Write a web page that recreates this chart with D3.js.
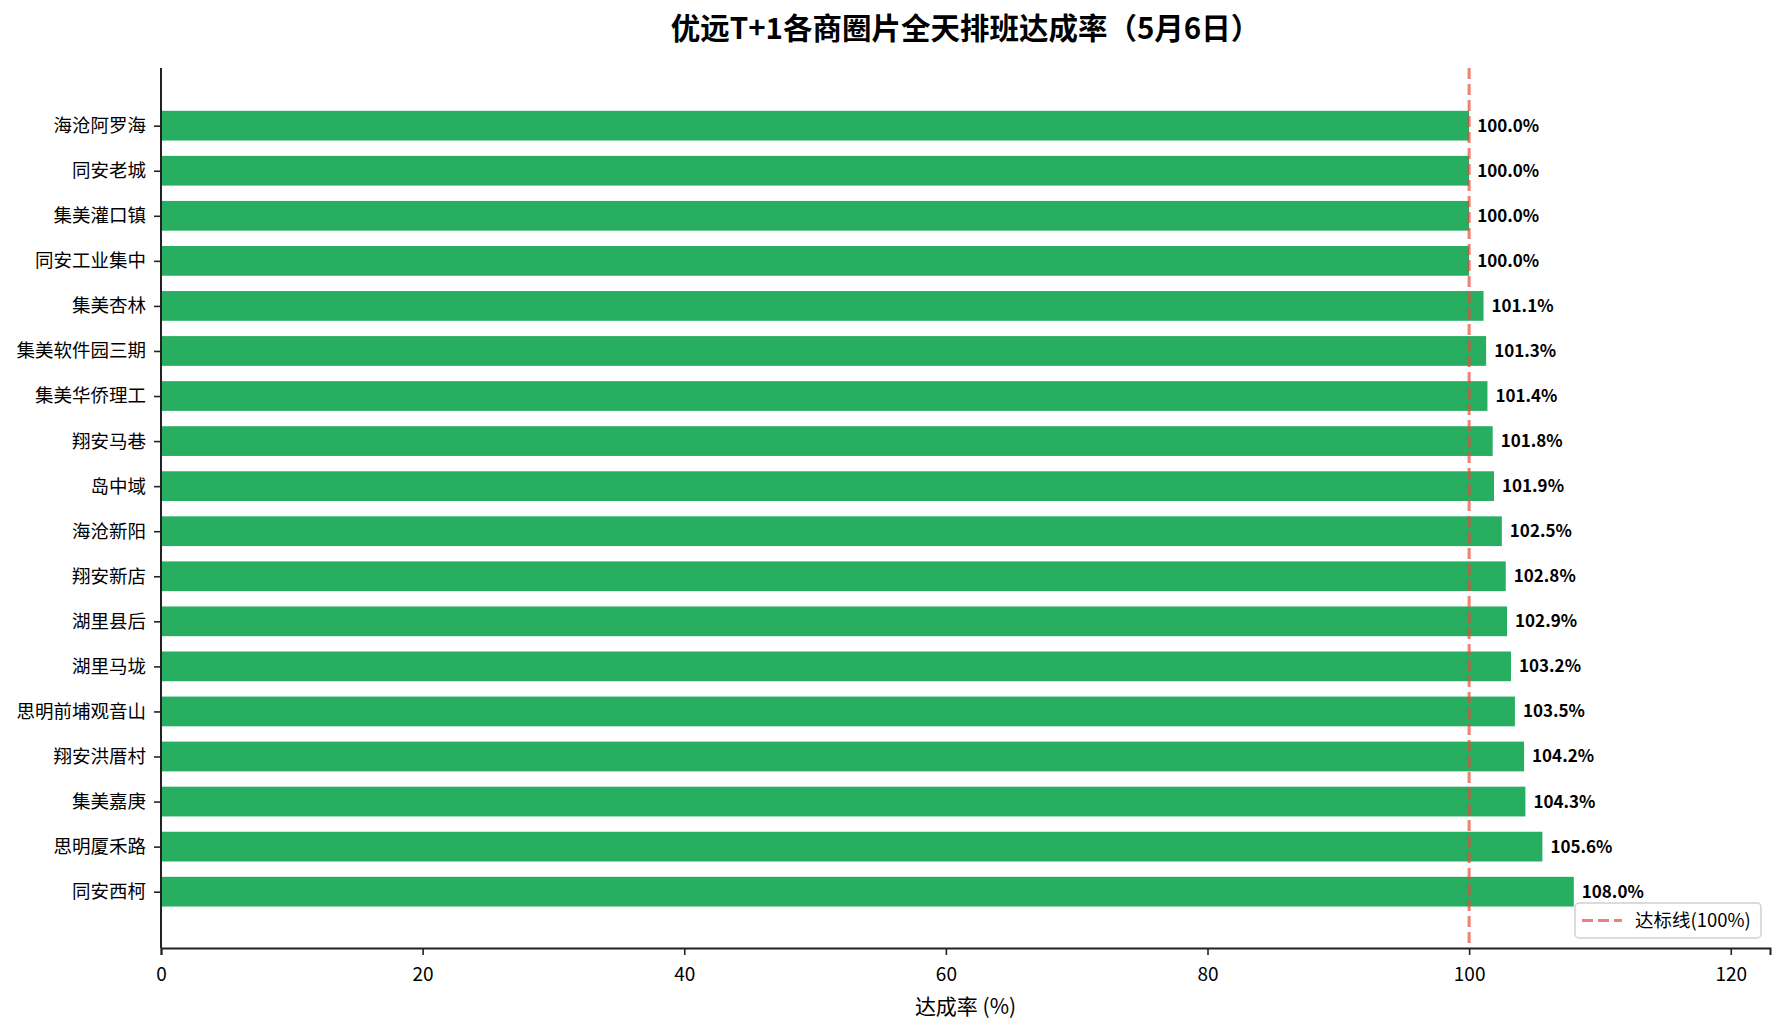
<!DOCTYPE html>
<html>
<head>
<meta charset="utf-8">
<title>优远T+1各商圈片全天排班达成率</title>
<script src="https://d3js.org/d3.v7.min.js"></script>
<style>
    body { margin: 0; background: #fff; }
    svg text { font-family: "Noto Sans CJK SC", "Noto Sans", sans-serif; }
</style>
</head>
<body>
<div id="chart"></div>
<script>
    // data (top to bottom)
    const areas = ["海沧阿罗海", "同安老城", "集美灌口镇", "同安工业集中", "集美杏林", "集美软件园三期",
        "集美华侨理工", "翔安马巷", "岛中域", "海沧新阳", "翔安新店", "湖里县后",
        "湖里马垅", "思明前埔观音山", "翔安洪厝村", "集美嘉庚", "思明厦禾路", "同安西柯"];
    const rates = [100.0, 100.0, 100.0, 100.0, 101.1, 101.3, 101.4, 101.8, 101.9, 102.5,
        102.8, 102.9, 103.2, 103.5, 104.2, 104.3, 105.6, 108.0];
    const xTicks = [0, 20, 40, 60, 80, 100, 120];
    const target = 100;
    const titleText = "优远T+1各商圈片全天排班达成率（5月6日）";
    const xLabel = "达成率 (%)";
    const legendLabel = "达标线(100%)";

    const W = 1785, H = 1033;
    const plot = { left: 161, right: 1770, top: 68, bottom: 948 };

    const svg = d3.select("#chart").append("svg")
        .attr("width", W)
        .attr("height", H);

    const x = d3.scaleLinear().domain([0, 123]).range([plot.left, plot.right]);
    // category index on a linear scale, with margins like the original
    const y = d3.scaleLinear().domain([-1.28, areas.length - 1 + 1.25]).range([plot.top, plot.bottom]);
    const barH = (y(0.33) - y(-0.33));

    // bars
    svg.append("g").selectAll("rect")
        .data(rates)
        .join("rect")
        .attr("x", x(0))
        .attr("y", (d, i) => y(i) - barH / 2)
        .attr("width", d => x(d) - x(0))
        .attr("height", barH)
        .attr("fill", "#27ae60");

    // value labels
    svg.append("g").selectAll("text")
        .data(rates)
        .join("text")
        .attr("x", d => x(d) + 8)
        .attr("y", (d, i) => y(i))
        .attr("dy", "0.35em")
        .style("font-size", "17px")
        .style("font-weight", "bold")
        .attr("fill", "#000")
        .text(d => d.toFixed(1) + "%");

    // target line
    svg.append("line")
        .attr("x1", x(target)).attr("x2", x(target))
        .attr("y1", plot.top).attr("y2", plot.bottom)
        .attr("stroke", "#e74c3c")
        .attr("stroke-opacity", 0.7)
        .attr("stroke-width", 3)
        .attr("stroke-dasharray", "11,5");

    // x axis
    const xAxis = svg.append("g")
        .attr("transform", `translate(0,${plot.bottom})`)
        .call(d3.axisBottom(x).tickValues(xTicks).tickSize(7).tickPadding(13));
    xAxis.select(".domain").attr("stroke", "#222").attr("stroke-width", 2);
    xAxis.selectAll(".tick line").attr("stroke", "#222").attr("stroke-width", 1.6);
    xAxis.selectAll(".tick text")
        .style("font-size", "19px")
        .style("font-family", "'Noto Sans CJK SC', sans-serif")
        .attr("fill", "#000");

    // y axis
    const yAxis = svg.append("g")
        .attr("transform", `translate(${plot.left},0)`)
        .call(d3.axisLeft(y).tickValues(d3.range(areas.length)).tickFormat(i => areas[i]).tickSize(7).tickPadding(8));
    yAxis.select(".domain").attr("d", `M0,${plot.top}V${plot.bottom}`).attr("stroke", "#222").attr("stroke-width", 2);
    yAxis.selectAll(".tick line").attr("stroke", "#222").attr("stroke-width", 1.6);
    yAxis.selectAll(".tick text")
        .style("font-size", "18.5px")
        .style("font-family", "'Noto Sans CJK SC', sans-serif")
        .attr("fill", "#000");

    // x label
    svg.append("text")
        .attr("x", (plot.left + plot.right) / 2)
        .attr("y", 1007)
        .attr("dy", "0.35em")
        .attr("text-anchor", "middle")
        .style("font-size", "21px")
        .text(xLabel);

    // title
    svg.append("text")
        .attr("x", (plot.left + plot.right) / 2)
        .attr("y", 29)
        .attr("dy", "0.35em")
        .attr("text-anchor", "middle")
        .style("font-size", "29.5px")
        .style("font-weight", "bold")
        .text(titleText);

    // legend, lower right
    const lg = svg.append("g").attr("transform", "translate(1575,903)");
    lg.append("rect")
        .attr("width", 186).attr("height", 35)
        .attr("rx", 4)
        .attr("fill", "#fff").attr("fill-opacity", 0.8)
        .attr("stroke", "#d0d0d0").attr("stroke-width", 1.5);
    lg.append("line")
        .attr("x1", 7).attr("x2", 47)
        .attr("y1", 17.5).attr("y2", 17.5)
        .attr("stroke", "#e74c3c")
        .attr("stroke-opacity", 0.7)
        .attr("stroke-width", 3)
        .attr("stroke-dasharray", "11,5");
    lg.append("text")
        .attr("x", 60).attr("y", 17.5)
        .attr("dy", "0.35em")
        .style("font-size", "18.5px")
        .text(legendLabel);
</script>
</body>
</html>
